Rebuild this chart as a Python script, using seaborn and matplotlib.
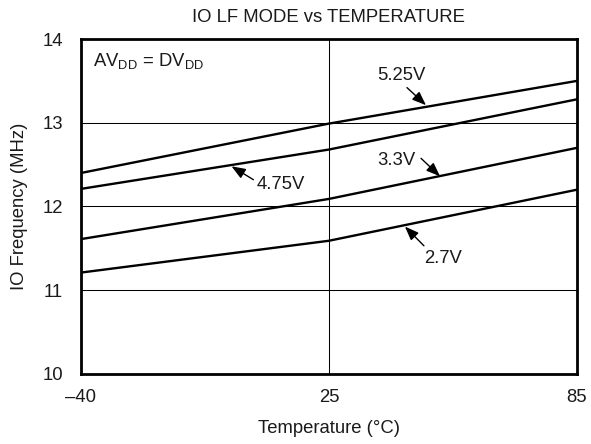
import matplotlib
matplotlib.use("Agg")
import matplotlib.pyplot as plt
import seaborn as sns
import pandas as pd
import numpy as np

temps = [-40, 25, 85]
v525 = [12.40, 12.99, 13.50]
v475 = [12.21, 12.68, 13.28]
v330 = [11.61, 12.09, 12.70]
v270 = [11.21, 11.59, 12.20]
series_names = ["5.25V", "4.75V", "3.3V", "2.7V"]
xticks = [-40, 25, 85]
xtick_labels = ["\u201340", "25", "85"]
yticks = [10, 11, 12, 13, 14]

sns.set_theme(style="white")
plt.rcParams['font.family'] = ['Liberation Sans', 'DejaVu Sans']
plt.rcParams['mathtext.fontset'] = 'custom'
plt.rcParams['mathtext.rm'] = 'Liberation Sans'

rows = []
for name, vals in zip(series_names, [v525, v475, v330, v270]):
    for t, v in zip(temps, vals):
        rows.append({"T": t, "F": v, "V": name})
df = pd.DataFrame(rows)


# piecewise-linear temperature axis: -40, 25 and 85 equally spaced
def fwd(x):
    x = np.asarray(x, dtype=float)
    return np.where(x <= 25, (x + 40) / 65.0, 1 + (x - 25) / 60.0)


def inv(u):
    u = np.asarray(u, dtype=float)
    return np.where(u <= 1, u * 65.0 - 40, 25 + (u - 1) * 60.0)


TXT = "#1a1a1a"
FS = 13.3

fig = plt.figure(figsize=(5.91, 4.44), dpi=100)
ax = fig.add_axes([0.137, 0.158, 0.839, 0.754])
ax.set_xscale("function", functions=(fwd, inv))
sns.lineplot(data=df, x="T", y="F", units="V", estimator=None, color="black",
             linewidth=1.7, ax=ax, legend=False)

ax.set_xlim(-40, 85)
ax.set_ylim(10, 14)
ax.set_xticks(xticks)
ax.set_xticklabels(xtick_labels)
ax.set_xticks([], minor=True)
ax.set_yticks(yticks)
for y in [11, 12, 13]:
    ax.axhline(y, color="black", linewidth=0.75, zorder=0)
ax.axvline(25, color="black", linewidth=0.75, zorder=0)
for s in ax.spines.values():
    s.set_visible(True)
    s.set_color("black")
    s.set_linewidth(2.0)
ax.tick_params(axis="both", which="both", length=0, labelsize=FS, colors=TXT)
ax.tick_params(axis="x", pad=11)
ax.tick_params(axis="y", pad=13)
ax.set_xlabel("Temperature (\u00b0C)", fontsize=FS, color=TXT, labelpad=10)
ax.set_ylabel("IO Frequency (MHz)", fontsize=FS, color=TXT, labelpad=10)
ax.set_title("IO LF MODE vs TEMPERATURE", fontsize=FS, color=TXT, pad=12)

ax.text(0.024, 0.919, r"AV$_{\mathregular{DD}}$ = DV$_{\mathregular{DD}}$",
        transform=ax.transAxes, fontsize=FS, ha="left", va="baseline", color=TXT)

ann = [
    ("5.25V", (42.6, 13.57), (43.9, 13.42), (48.5, 13.21)),
    ("4.75V", (12.3, 12.257), (5.2, 12.32), (-0.54, 12.48)),
    ("3.3V", (41.4, 12.555), (47.3, 12.575), (51.9, 12.36)),
    ("2.7V", (52.7, 11.38), (48.0, 11.53), (43.4, 11.76)),
]
for lab, tpos, tail, head in ann:
    ax.text(tpos[0], tpos[1], lab, fontsize=FS, ha="center", va="center", color=TXT)
    ax.annotate("", xy=head, xytext=tail,
                arrowprops=dict(arrowstyle="-|>,head_length=0.7,head_width=0.27",
                                color="black", lw=1.0, shrinkA=0, shrinkB=0))

fig.savefig("out.png", dpi=100)
